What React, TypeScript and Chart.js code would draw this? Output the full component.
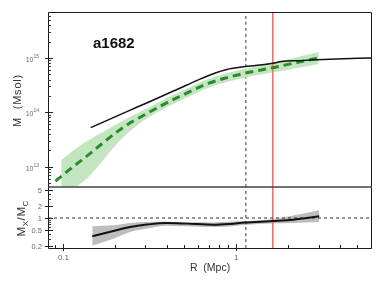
import React, { useEffect, useRef } from "react";
import { Chart, registerables } from "chart.js";

Chart.register(...registerables);

const W = 385;
const H = 289;

// axis ranges
const R_MIN = 0.0822;
const R_MAX = 6.09;
const M_MIN = 4.2e12;
const M_MAX = 7.0e15;
const Q_MIN = 0.178;
const Q_MAX = 5.96;

const CLUSTER = "a1682";
const Y_TITLE_TOP = "M  (Msol)";
const X_TITLE = "R  (Mpc)";

// vertical reference lines (Mpc)
const R_DOTTED = 1.14;
const R_RED = 1.63;
const Q_UNITY = 1;

// caustic mass profile (black)
const R_CAUSTIC = [0.145, 0.238, 0.305, 0.45, 0.62, 0.74, 0.884, 1.13, 1.63, 1.83, 2.34, 3.48, 6.1];
const M_CAUSTIC = [5.2e13, 1.05e14, 1.48e14, 2.57e14, 4.07e14, 5.1e14, 6.1e14, 6.92e14, 7.94e14, 8.6e14, 8.91e14, 9.44e14, 1.0e15];

// X-ray mass profile (green dashed)
const R_XRAY = [0.0907, 0.112, 0.14, 0.167, 0.2, 0.238, 0.273, 0.333, 0.407, 0.496, 0.593, 0.692, 0.85, 1.13, 1.63, 2.2, 3.0];
const M_XRAY = [5.37e12, 9.33e12, 1.62e13, 2.57e13, 4.07e13, 6.03e13, 7.76e13, 1.1e14, 1.55e14, 2.09e14, 2.75e14, 3.39e14, 4.17e14, 5.25e14, 6.61e14, 8.13e14, 1.0e15];

// X-ray uncertainty band (green)
const R_XBAND = [0.098, 0.112, 0.128, 0.14, 0.167, 0.2, 0.238, 0.273, 0.333, 0.407, 0.496, 0.593, 0.692, 0.85, 1.13, 1.63, 2.2, 3.0];
const M_XBAND_HI = [1.32e13, 1.86e13, 2.51e13, 3.02e13, 4.17e13, 5.75e13, 7.85e13, 9.77e13, 1.35e14, 1.91e14, 2.51e14, 3.31e14, 4.07e14, 5.01e14, 6.31e14, 8.13e14, 1.02e15, 1.29e15];
const M_XBAND_LO = [2.0e12, 3.55e12, 5.0e12, 6.3e12, 1.2e13, 2.4e13, 4.17e13, 6.03e13, 9.12e13, 1.29e14, 1.74e14, 2.29e14, 2.82e14, 3.47e14, 4.37e14, 5.37e14, 6.46e14, 7.76e14];

// ratio Mx/Mc (bottom panel)
const R_RATIO = [0.148, 0.196, 0.245, 0.305, 0.398, 0.52, 0.74, 0.92, 1.127, 1.63, 2.14, 3.02];
const Q_RATIO = [0.349, 0.473, 0.596, 0.684, 0.75, 0.724, 0.68, 0.71, 0.767, 0.84, 0.91, 1.1];
const R_QBAND = [0.148, 0.196, 0.245, 0.305, 0.398, 0.52, 0.74, 0.808, 1.127, 1.63, 2.14, 3.02];
const Q_BAND_HI = [0.62, 0.657, 0.75, 0.794, 0.81, 0.79, 0.767, 0.794, 0.84, 0.944, 1.15, 1.56];
const Q_BAND_LO = [0.205, 0.305, 0.447, 0.543, 0.645, 0.62, 0.596, 0.596, 0.668, 0.724, 0.75, 0.794];

// ticks
const M_TICK_EXP = [13, 14, 15];
const M_MINOR_EXP = [12, 13, 14, 15];
const M_MINOR_MANT = [2, 3, 4, 5, 6, 7, 8, 9];
const Q_TICKS = [0.2, 0.5, 1, 2, 5];
const Q_TICK_LABELS = ["0.2", "0.5", "1", "2", "5"];
const Q_MINOR = [0.3, 0.4, 0.6, 0.7, 0.8, 0.9, 3, 4];
const R_TICKS = [0.1, 1];
const R_TICK_LABELS = ["0.1", "1"];
const R_MINOR = [0.09, 0.2, 0.3, 0.4, 0.5, 0.6, 0.7, 0.8, 0.9, 2, 3, 4, 5, 6];

const FONT = '"Liberation Sans", Arial, Helvetica, sans-serif';
const GREEN = "#2b8a2b";
const GREEN_BAND = "#c3e5bf";
const GRAY_BAND = "#bdbdbd";
const RED = "#ff6262";

const pts = (xs: number[], ys: number[]) => xs.map((x, i) => ({ x, y: ys[i] }));

function seg(ctx: CanvasRenderingContext2D, x1: number, y1: number, x2: number, y2: number) {
  ctx.beginPath();
  ctx.moveTo(x1, y1);
  ctx.lineTo(x2, y2);
  ctx.stroke();
}

const topDecor = {
  id: "topDecor",
  afterDraw(chart: any) {
    const { ctx, chartArea: a, scales } = chart;
    const y = scales.y;
    ctx.save();
    ctx.strokeStyle = "#1a1a1a";
    ctx.lineWidth = 1;
    ctx.beginPath();
    ctx.moveTo(a.left + 0.5, a.bottom);
    ctx.lineTo(a.left + 0.5, a.top + 0.5);
    ctx.lineTo(a.right - 0.5, a.top + 0.5);
    ctx.lineTo(a.right - 0.5, a.bottom);
    ctx.stroke();

    // minor ticks
    ctx.strokeStyle = "#333";
    for (const e of M_MINOR_EXP) {
      for (const m of M_MINOR_MANT) {
        const v = m * Math.pow(10, e);
        if (v < y.min || v > y.max) continue;
        const py = Math.round(y.getPixelForValue(v)) + 0.5;
        seg(ctx, a.left, py, a.left + 3, py);
      }
    }
    // major ticks and labels
    for (const e of M_TICK_EXP) {
      const py = Math.round(y.getPixelForValue(Math.pow(10, e))) + 0.5;
      ctx.strokeStyle = "#222";
      seg(ctx, a.left - 3, py, a.left + 5, py);
      ctx.fillStyle = "#6a6a6a";
      ctx.textAlign = "right";
      ctx.textBaseline = "alphabetic";
      ctx.font = `5px ${FONT}`;
      const ew = ctx.measureText(String(e)).width;
      ctx.fillText(String(e), a.left - 9, py - 1);
      ctx.font = `7px ${FONT}`;
      ctx.fillText("10", a.left - 9 - ew, py + 3.5);
    }

    // y title
    ctx.save();
    ctx.translate(17.5, (a.top + a.bottom) / 2 + 1);
    ctx.rotate(-Math.PI / 2);
    ctx.fillStyle = "#333";
    ctx.font = `11px ${FONT}`;
    try { (ctx as any).letterSpacing = "0.8px"; } catch (e) {}
    ctx.textAlign = "center";
    ctx.textBaseline = "middle";
    ctx.fillText(Y_TITLE_TOP, 0, 0);
    ctx.restore();

    // cluster name
    ctx.fillStyle = "#111";
    ctx.font = `bold 15px ${FONT}`;
    ctx.textAlign = "left";
    ctx.textBaseline = "alphabetic";
    ctx.fillText(CLUSTER, a.left + 45, a.top + 36);
    ctx.restore();
  },
};

const bottomDecor = {
  id: "bottomDecor",
  afterDraw(chart: any) {
    const { ctx, chartArea: a, scales } = chart;
    const x = scales.x;
    const y = scales.y;
    ctx.save();
    ctx.strokeStyle = "#1a1a1a";
    ctx.lineWidth = 1;
    ctx.beginPath();
    ctx.moveTo(a.left + 0.5, a.top);
    ctx.lineTo(a.left + 0.5, a.bottom + 0.5);
    ctx.lineTo(a.right - 0.5, a.bottom + 0.5);
    ctx.lineTo(a.right - 0.5, a.top);
    ctx.stroke();
    // separator
    ctx.strokeStyle = "#444";
    ctx.lineWidth = 1.6;
    seg(ctx, a.left, a.top, a.right, a.top);
    ctx.lineWidth = 1;

    // y minor ticks
    ctx.strokeStyle = "#333";
    for (const v of Q_MINOR) {
      const py = Math.round(y.getPixelForValue(v)) + 0.5;
      seg(ctx, a.left, py, a.left + 3, py);
    }
    Q_TICKS.forEach((v, i) => {
      const py = Math.round(y.getPixelForValue(v)) + 0.5;
      ctx.strokeStyle = "#222";
      seg(ctx, a.left - 3, py, a.left + 5, py);
      ctx.fillStyle = "#6a6a6a";
      ctx.font = `7.5px ${FONT}`;
      ctx.textAlign = "right";
      ctx.textBaseline = "middle";
      ctx.fillText(Q_TICK_LABELS[i], a.left - 6, py + 0.5);
    });

    // x ticks
    for (const v of R_MINOR) {
      if (v < x.min || v > x.max) continue;
      const px = Math.round(x.getPixelForValue(v)) + 0.5;
      seg(ctx, px, a.bottom, px, a.bottom - 3);
    }
    R_TICKS.forEach((v, i) => {
      const px = Math.round(x.getPixelForValue(v)) + 0.5;
      ctx.strokeStyle = "#222";
      seg(ctx, px, a.bottom + 3, px, a.bottom - 4);
      ctx.fillStyle = "#6a6a6a";
      ctx.font = `8px ${FONT}`;
      ctx.textAlign = "center";
      ctx.textBaseline = "alphabetic";
      ctx.fillText(R_TICK_LABELS[i], px, a.bottom + 12);
    });

    // x title
    ctx.fillStyle = "#333";
    ctx.font = `10.5px ${FONT}`;
    ctx.textAlign = "center";
    ctx.textBaseline = "alphabetic";
    ctx.fillText(X_TITLE, (a.left + a.right) / 2, a.bottom + 23);

    // y title Mx/Mc
    ctx.save();
    ctx.translate(25, (a.top + a.bottom) / 2 + 19);
    ctx.rotate(-Math.PI / 2);
    ctx.textAlign = "left";
    ctx.textBaseline = "alphabetic";
    ctx.fillStyle = "#333";
    let cx = 0;
    const part = (t: string, size: number, dy: number) => {
      ctx.font = `${size}px ${FONT}`;
      ctx.fillText(t, cx, dy);
      cx += ctx.measureText(t).width + 0.6;
    };
    part("M", 11.5, 0);
    part("X", 8, 2.5);
    part("/", 11.5, 0);
    part("M", 11.5, 0);
    part("C", 8, 2.5);
    ctx.restore();

    ctx.restore();
  },
};

export default function App() {
  const topRef = useRef<HTMLCanvasElement | null>(null);
  const botRef = useRef<HTMLCanvasElement | null>(null);

  useEffect(() => {
    const baseDs = { pointRadius: 0, pointHoverRadius: 0, cubicInterpolationMode: "monotone" as const };

    const top = new Chart(topRef.current as HTMLCanvasElement, {
      type: "line",
      data: {
        datasets: [
          { ...baseDs, data: pts(R_CAUSTIC, M_CAUSTIC), borderColor: "#111", borderWidth: 1.5, fill: false, order: 1 },
          { ...baseDs, data: pts(R_XRAY, M_XRAY), borderColor: GREEN, borderWidth: 3, borderDash: [8, 5], fill: false, order: 2 },
          { ...baseDs, data: pts(R_XBAND, M_XBAND_HI), borderColor: "rgba(0,0,0,0)", borderWidth: 0, backgroundColor: GREEN_BAND, fill: "+1", order: 4 },
          { ...baseDs, data: pts(R_XBAND, M_XBAND_LO), borderColor: "rgba(0,0,0,0)", borderWidth: 0, fill: false, order: 4 },
          { ...baseDs, data: [{ x: R_DOTTED, y: M_MIN }, { x: R_DOTTED, y: M_MAX }], borderColor: "#333", borderWidth: 1, borderDash: [3, 3], fill: false, order: 5 },
          { ...baseDs, data: [{ x: R_RED, y: M_MIN }, { x: R_RED, y: M_MAX }], borderColor: RED, borderWidth: 1.5, fill: false, order: 3 },
        ],
      },
      options: {
        animation: false,
        responsive: false,
        devicePixelRatio: 1,
        events: [],
        layout: { padding: { left: 48, right: 13, top: 12, bottom: H - 187 } },
        plugins: { legend: { display: false }, tooltip: { enabled: false } },
        scales: {
          x: { type: "logarithmic", min: R_MIN, max: R_MAX, display: false },
          y: { type: "logarithmic", min: M_MIN, max: M_MAX, display: false },
        },
      },
      plugins: [topDecor],
    });

    const bot = new Chart(botRef.current as HTMLCanvasElement, {
      type: "line",
      data: {
        datasets: [
          { ...baseDs, data: pts(R_RATIO, Q_RATIO), borderColor: "#111", borderWidth: 2, fill: false, order: 1 },
          { ...baseDs, data: pts(R_QBAND, Q_BAND_HI), borderColor: "rgba(0,0,0,0)", borderWidth: 0, backgroundColor: GRAY_BAND, fill: "+1", order: 5 },
          { ...baseDs, data: pts(R_QBAND, Q_BAND_LO), borderColor: "rgba(0,0,0,0)", borderWidth: 0, fill: false, order: 5 },
          { ...baseDs, data: [{ x: R_MIN, y: Q_UNITY }, { x: R_MAX, y: Q_UNITY }], borderColor: "#333", borderWidth: 1, borderDash: [3, 3], fill: false, order: 2 },
          { ...baseDs, data: [{ x: R_DOTTED, y: Q_MIN }, { x: R_DOTTED, y: Q_MAX }], borderColor: "#333", borderWidth: 1, borderDash: [3, 3], fill: false, order: 3 },
          { ...baseDs, data: [{ x: R_RED, y: Q_MIN }, { x: R_RED, y: Q_MAX }], borderColor: RED, borderWidth: 1.5, fill: false, order: 3 },
        ],
      },
      options: {
        animation: false,
        responsive: false,
        devicePixelRatio: 1,
        events: [],
        layout: { padding: { left: 48, right: 13, top: 187, bottom: H - 248 } },
        plugins: { legend: { display: false }, tooltip: { enabled: false } },
        scales: {
          x: { type: "logarithmic", min: R_MIN, max: R_MAX, display: false },
          y: { type: "logarithmic", min: Q_MIN, max: Q_MAX, display: false },
        },
      },
      plugins: [bottomDecor],
    });

    return () => {
      top.destroy();
      bot.destroy();
    };
  }, []);

  const cstyle: React.CSSProperties = { position: "absolute", left: 0, top: 0, width: W, height: H, display: "block" };
  return (
    <div style={{ position: "fixed", left: 0, top: 0, width: W, height: H, background: "#fff" }}>
      <canvas ref={topRef} width={W} height={H} style={cstyle} />
      <canvas ref={botRef} width={W} height={H} style={cstyle} />
    </div>
  );
}
